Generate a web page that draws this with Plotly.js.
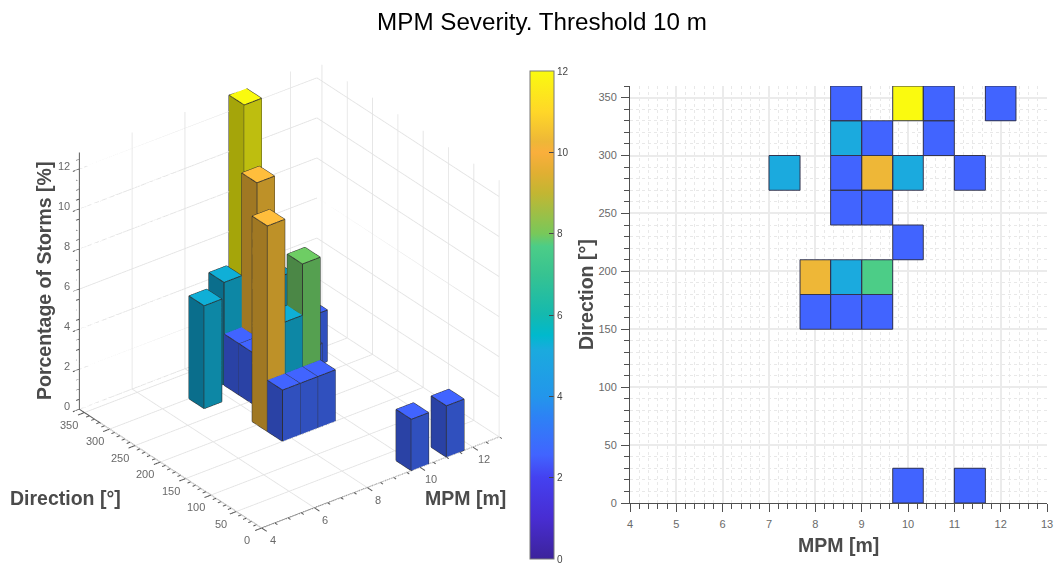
<!DOCTYPE html>
<html><head><meta charset="utf-8">
<script src="https://cdn.plot.ly/plotly-3.0.1.min.js"></script>
<style>html,body{margin:0;padding:0;background:#fff;overflow:hidden}#c{width:1055px;height:565px}</style>
</head><body><div id="c"></div>
<script>
// ---- data ----
const mpmEdges = [7,7.67,8.33,9,9.67,10.33,11,11.67,12.33];
const dirEdges = [0,30,60,90,120,150,180,210,240,270,300,330,360];
const cellMpmBin = [2,4,5,7, 2,3,5, 0,2,3,4,6, 2,3, 4, 1,2,3, 1,2,3, 4,6];
const cellDirBin = [11,11,11,11, 10,10,10, 9,9,9,9,9, 8,8, 7, 6,6,6, 5,5,5, 0,0];
const cellPercent = [2.56,12.82,2.56,2.56, 5.13,2.56,2.56, 5.13,2.56,10.26,5.13,2.56, 2.56,2.56, 2.56, 10.26,5.13,7.69, 2.56,2.56,2.56, 2.56,2.56];
const levelValues = [2.56,5.13,7.69,10.26,12.82];
const levelTop   = ['rgb(65,100,255)','rgb(15,175,215)','rgb(110,205,100)','rgb(255,190,60)','rgb(250,250,15)'];
const levelLeft  = ['rgb(42,66,165)','rgb(10,110,140)','rgb(75,135,70)','rgb(160,120,35)','rgb(165,165,10)'];
const levelRight = ['rgb(48,80,190)','rgb(13,135,165)','rgb(85,160,80)','rgb(190,145,40)','rgb(190,190,15)'];
const xTicks = [4,6,8,10,12];
const yTicks = [0,50,100,150,200,250,300,350];
const zTicks = [0,2,4,6,8,10,12];
const xLim = [4,13], yLim = [0,360], zLim = [0,12.82];
const colorStops = [[0,'rgb(60,35,155)'],[1,'rgb(72,45,210)'],[2,'rgb(68,65,240)'],[2.56,'rgb(65,100,255)'],[3.5,'rgb(45,130,245)'],[4,'rgb(35,150,235)'],[5.13,'rgb(27,170,222)'],[5.5,'rgb(0,185,205)'],[6,'rgb(20,185,175)'],[7,'rgb(55,195,145)'],[7.69,'rgb(76,205,135)'],[8,'rgb(120,200,90)'],[9,'rgb(195,182,50)'],[9.5,'rgb(225,175,50)'],[10,'rgb(250,175,60)'],[10.26,'rgb(238,183,55)'],[11,'rgb(255,215,40)'],[12,'rgb(250,250,15)']];

// ---- tuning of the 3D view ----
const EYE_R = 2, ZOOM = 1.113, Z_ZOOM = 1.102, CENTER_Z = 0.007;
const theta = 37.5*Math.PI/180, elev = 30*Math.PI/180;
const xPad = 0.25, yPad = 10;
const xExt = [xLim[0]-xPad, xLim[1]], yExt = [yLim[0]-yPad, yLim[1]];

// ---- bars ----
const traces = [];
const ex=[],ey=[],ez=[];
cellPercent.forEach((p,n)=>{
  const x0=mpmEdges[cellMpmBin[n]],x1=mpmEdges[cellMpmBin[n]+1],y0=dirEdges[cellDirBin[n]],y1=dirEdges[cellDirBin[n]+1];
  const lv=levelValues.indexOf(p);
  const X=[x0,x1,x1,x0,x0,x1,x1,x0],Y=[y0,y0,y1,y1,y0,y0,y1,y1],Z=[0,0,0,0,p,p,p,p];
  const I=[4,4, 0,0, 1,1, 0,0, 0,0, 3,3];
  const J=[5,6, 1,5, 2,6, 3,7, 1,2, 2,6];
  const K=[6,7, 5,4, 6,5, 7,4, 2,3, 6,7];
  const T=levelTop[lv],L=levelLeft[lv],R=levelRight[lv];
  const fc=[T,T, R,R, R,R, L,L, L,L, L,L];
  traces.push({type:'mesh3d',x:X,y:Y,z:Z,i:I,j:J,k:K,facecolor:fc,flatshading:true,showscale:false,hoverinfo:'skip',
    lighting:{ambient:1,diffuse:0,specular:0,roughness:1,fresnel:0},lightposition:{x:0,y:0,z:1000}});
  [[0,1],[1,2],[2,3],[3,0],[4,5],[5,6],[6,7],[7,4],[0,4],[1,5],[2,6],[3,7]].forEach(([a,b])=>{
    ex.push(X[a],X[b],null);ey.push(Y[a],Y[b],null);ez.push(Z[a],Z[b],null);
  });
});
traces.push({type:'scatter3d',mode:'lines',x:ex,y:ey,z:ez,line:{color:'rgb(45,45,45)',width:1.8},hoverinfo:'skip',showlegend:false});

// ---- grid walls ----
const gx=[],gy=[],gz=[];
function seg(a,b,store){store[0].push(a[0],b[0],null);store[1].push(a[1],b[1],null);store[2].push(a[2],b[2],null);}
const G=[gx,gy,gz];
xTicks.forEach(v=>{seg([v,yLim[0],0],[v,yLim[1],0],G);seg([v,yLim[1],0],[v,yLim[1],zLim[1]],G);});
yTicks.forEach(v=>{seg([xLim[0],v,0],[xLim[1],v,0],G);seg([xLim[1],v,0],[xLim[1],v,zLim[1]],G);});
zTicks.forEach(v=>{seg([xLim[0],yLim[1],v],[xLim[1],yLim[1],v],G);seg([xLim[1],yLim[0],v],[xLim[1],yLim[1],v],G);});
traces.unshift({type:'scatter3d',mode:'lines',x:gx,y:gy,z:gz,line:{color:'rgb(226,226,226)',width:1.6},hoverinfo:'skip',showlegend:false});

// ---- axis lines and ticks ----
const ax=[],ay=[],az=[];const A=[ax,ay,az];
seg([xLim[0],yLim[0],0],[xLim[1],yLim[0],0],A);
seg([xLim[0],yLim[0],0],[xLim[0],yLim[1],0],A);
seg([xLim[0],yLim[1],0],[xLim[0],yLim[1],zLim[1]],A);
for(let v=xLim[0];v<=xLim[1]+1e-6;v+=0.5){const maj=xTicks.includes(v);seg([v,0,0],[v,-(maj?yPad:yPad/2),0],A);}
for(let v=0;v<=yLim[1];v+=10){const maj=yTicks.includes(v);seg([xLim[0],v,0],[xLim[0]-(maj?xPad:xPad/2),v,0],A);}
for(let v=0;v<=12.5;v+=0.5){const maj=zTicks.includes(v);seg([xLim[0],yLim[1],v],[xLim[0]-(maj?xPad:xPad/2),yLim[1],v],A);}
traces.push({type:'scatter3d',mode:'lines',x:ax,y:ay,z:az,line:{color:'rgb(90,90,90)',width:2},hoverinfo:'skip',showlegend:false});

// ---- tick labels as real text anchored in the 3D scene ----
const tickFont={family:'Liberation Sans, Arial, sans-serif',size:11,color:'rgb(105,105,105)'};
const sceneAnn=[];
xTicks.forEach(v=>sceneAnn.push({x:v,y:0,z:0,text:String(v),showarrow:false,xshift:11,yshift:-12,font:tickFont}));
yTicks.forEach(v=>sceneAnn.push({x:4,y:v,z:0,text:String(v),showarrow:false,xshift:-15,yshift:-12,font:tickFont}));
zTicks.forEach(v=>sceneAnn.push({x:4,y:360,z:v,text:String(v),showarrow:false,xanchor:'right',xshift:-7,yshift:3,font:tickFont}));

// ---- heatmap (right panel) ----
const zGrid=dirEdges.slice(1).map(()=>mpmEdges.slice(1).map(()=>null));
cellPercent.forEach((p,n)=>{zGrid[cellDirBin[n]][cellMpmBin[n]]=p;});
traces.push({type:'heatmap',x:mpmEdges,y:dirEdges,z:zGrid,zmin:0,zmax:12,hoverongaps:false,xaxis:'x',yaxis:'y',
  colorscale:colorStops.map(s=>[s[0]/12,s[1]]),
  colorbar:{x:530/1055,xanchor:'left',y:6/565,yanchor:'bottom',lenmode:'pixels',len:488,thicknessmode:'pixels',thickness:24,
    xpad:0,ypad:0,outlinecolor:'rgb(120,120,120)',outlinewidth:1,ticks:'inside',ticklen:5,tickcolor:'rgb(70,70,70)',
    tickvals:zTicks,ticktext:zTicks.map(String),tickfont:{family:'Liberation Sans, Arial, sans-serif',size:10,color:'rgb(70,70,70)'}}});
const rx=[],ry=[];
cellPercent.forEach((p,n)=>{
  const x0=mpmEdges[cellMpmBin[n]],x1=mpmEdges[cellMpmBin[n]+1],y0=dirEdges[cellDirBin[n]],y1=dirEdges[cellDirBin[n]+1];
  rx.push(x0,x1,x1,x0,x0,null);ry.push(y0,y0,y1,y1,y0,null);
});
traces.push({type:'scatter',mode:'lines',x:rx,y:ry,xaxis:'x',yaxis:'y',cliponaxis:false,line:{color:'rgb(50,52,80)',width:1},hoverinfo:'skip',showlegend:false});

const boldFont={family:'Liberation Sans, Arial, sans-serif',size:19.5,color:'rgb(75,75,75)'};
function bold(t){return '<b>'+t+'</b>';}
function paperText(px,py,t,angle){return {xref:'paper',yref:'paper',x:px/1055,y:1-py/565,xanchor:'center',yanchor:'middle',text:bold(t),textangle:angle||0,showarrow:false,font:boldFont};}
const hiddenAxis={visible:false,showgrid:false,showline:false,zeroline:false,showticklabels:false,showspikes:false,showbackground:false,title:{text:''}};
const layout={
  width:1055,height:565,margin:{l:0,r:0,t:0,b:0},paper_bgcolor:'#fff',plot_bgcolor:'rgba(0,0,0,0)',showlegend:false,
  title:{text:'MPM Severity. Threshold 10 m',x:542/1055,xanchor:'center',y:1-22/565,yanchor:'middle',font:{family:'Liberation Sans, Arial, sans-serif',size:24.2,color:'#000'}},
  scene:{domain:{x:[0,577/1055],y:[0,537.6/565]},
    xaxis:Object.assign({},hiddenAxis,{range:xExt}),
    yaxis:Object.assign({},hiddenAxis,{range:yExt}),
    zaxis:Object.assign({},hiddenAxis,{range:zLim}),
    aspectmode:'manual',aspectratio:{x:ZOOM*(xExt[1]-xExt[0])/9,y:ZOOM*(yExt[1]-yExt[0])/360,z:Z_ZOOM},
    camera:{projection:{type:'orthographic'},up:{x:0,y:0,z:1},center:{x:0,y:0,z:CENTER_Z},
      eye:{x:-Math.sin(theta)*Math.cos(elev)*EYE_R,y:-Math.cos(theta)*Math.cos(elev)*EYE_R,z:Math.sin(elev)*EYE_R+CENTER_Z}},
    annotations:sceneAnn},
  xaxis:{domain:[630/1055,1047/1055],range:[4,13],dtick:1,tick0:4,ticks:'outside',ticklen:8,tickcolor:'rgb(80,80,80)',ticklabelstandoff:3,
    showline:true,linecolor:'rgb(80,80,80)',linewidth:1,gridcolor:'rgb(235,235,235)',gridwidth:1.5,zeroline:false,
    tickfont:{family:'Liberation Sans, Arial, sans-serif',size:11,color:'rgb(105,105,105)'},
    minor:{dtick:0.2,tick0:4,ticks:'outside',ticklen:5,tickcolor:'rgb(80,80,80)',showgrid:true,gridcolor:'rgb(232,232,232)',griddash:'dot',gridwidth:1}},
  yaxis:{domain:[1-503/565,1-86/565],range:[0,360],dtick:50,tick0:0,ticks:'outside',ticklen:8,tickcolor:'rgb(80,80,80)',ticklabelstandoff:2,
    showline:true,linecolor:'rgb(80,80,80)',linewidth:1,gridcolor:'rgb(235,235,235)',gridwidth:1.5,zeroline:false,
    tickfont:{family:'Liberation Sans, Arial, sans-serif',size:11,color:'rgb(105,105,105)'},
    minor:{dtick:10,tick0:0,ticks:'outside',ticklen:5,tickcolor:'rgb(80,80,80)',showgrid:true,gridcolor:'rgb(232,232,232)',griddash:'dot',gridwidth:1}},
  annotations:[
    paperText(838,545,'MPM [m]'),
    paperText(586,295,'Direction [°]',-90),
    paperText(44,281,'Porcentage of Storms [%]',-90),
    paperText(65,498,'Direction [°]'),
    paperText(465,498,'MPM [m]')
  ]
};
Plotly.newPlot('c',traces,layout,{displayModeBar:false});
</script></body></html>
